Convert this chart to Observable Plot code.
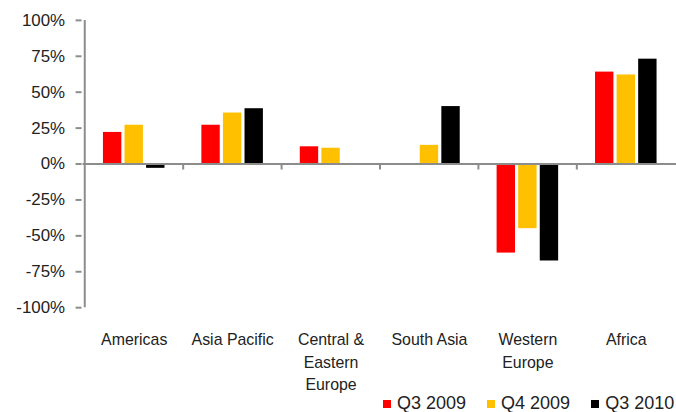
<!DOCTYPE html>
<html>
<head>
<meta charset="utf-8">
<script src="https://cdn.jsdelivr.net/npm/d3@7"></script>
<script src="https://cdn.jsdelivr.net/npm/@observablehq/plot@0.6"></script>
<style>
  html, body { margin: 0; padding: 0; background: #fff; overflow: hidden; }
  body { font-family: "Liberation Sans", Arial, sans-serif; color: #222; width: 676px; height: 412px; position: relative; }
  #chart svg { display: block; }
  #legend { position: absolute; left: 0; top: 395px; height: 17px; width: 676px; display: flex; align-items: center; font-size: 18px; color: #222; white-space: nowrap; }
  #legend .item { display: flex; align-items: center; margin-right: 21px; }
  #legend .sw { width: 8px; height: 8px; margin-right: 6px; }
</style>
</head>
<body>
<div id="chart"></div>
<div id="legend"></div>
<script>
const regions = ["Americas", "Asia Pacific", "Central & Eastern Europe", "South Asia", "Western Europe", "Africa"];
const regionLabels = ["Americas", "Asia Pacific", "Central &\nEastern\nEurope", "South Asia", "Western\nEurope", "Africa"];
const series = ["Q3 2009", "Q4 2009", "Q3 2010"];
const seriesColors = ["#FF0000", "#FFC000", "#000000"];
const q3_2009 = [22, 27, 12, null, -62, 64];
const q4_2009 = [27, 35.5, 11, 13, -45, 62];
const q3_2010 = [-3, 38.5, null, 40, -67.5, 73];
const seriesValues = [q3_2009, q4_2009, q3_2010];
const yTicks = [-100, -75, -50, -25, 0, 25, 50, 75, 100];

const W = 680, H = 412, mL = 83, mR = 0, mT = 20, mB = 103;
const step = (W - mL - mR) / regions.length;
const barW = 19, slot = 21.7;
const inset = (step - barW) / 2;
const axisGray = "#8c8c8c";

const barMarks = seriesValues.map((vals, s) =>
  Plot.barY(regions, {
    x: d => d,
    y1: () => 0,
    y2: (d, i) => vals[i],
    fill: seriesColors[s],
    dx: (s - 1) * slot,
    insetLeft: inset,
    insetRight: inset
  })
);

const chart = Plot.plot({
  width: W,
  height: H,
  marginLeft: mL,
  marginRight: mR,
  marginTop: mT,
  marginBottom: mB,
  style: { fontFamily: "'Liberation Sans', Arial, sans-serif", background: "#fff", color: "#222" },
  x: { domain: regions, padding: 0, axis: null },
  y: { domain: [-100, 100], axis: null },
  marks: [
    ...barMarks,
    Plot.ruleY([0], { stroke: axisGray, strokeWidth: 2 }),
    Plot.ruleX([regions[0]], { x: d => d, dx: -step / 2, stroke: axisGray, strokeWidth: 2 }),
    Plot.ruleX(regions.slice(1), { x: d => d, dx: -step / 2, y1: () => 0, y2: () => 0, insetBottom: -6, stroke: axisGray, strokeWidth: 2 }),
    Plot.axisY(yTicks, { tickFormat: d => d + "%", tickSize: 6, tickPadding: 11, stroke: axisGray, fill: "#222", fontSize: 17, strokeWidth: 2, dx: -1 }),
    Plot.text(regions, { x: d => d, text: (d, i) => regionLabels[i], frameAnchor: "bottom", lineAnchor: "top", dy: 22, fontSize: 16, lineHeight: 1.4, fill: "#222" })
  ]
});
document.getElementById("chart").appendChild(chart);

const legend = d3.select("#legend");
legend.append("div").style("width", "383px").style("flex", "none");
series.forEach((s, i) => {
  const item = legend.append("div").attr("class", "item");
  item.append("div").attr("class", "sw").style("background", seriesColors[i]);
  item.append("span").text(s);
});
</script>
</body>
</html>
